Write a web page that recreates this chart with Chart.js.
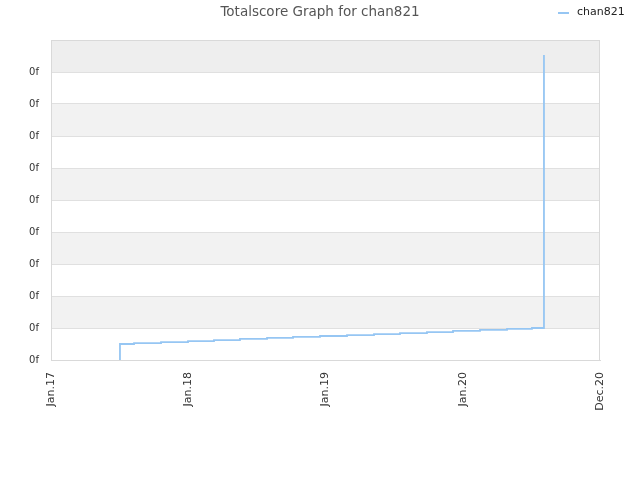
<!DOCTYPE html>
<html>
<head>
<meta charset="utf-8">
<script src="https://cdn.jsdelivr.net/npm/chart.js@4"></script>
<style>
  html, body { margin: 0; padding: 0; background: #fff; }
  #wrap { width: 640px; height: 480px; }
</style>
</head>
<body>
<div id="wrap"><canvas id="chartTotalscore" width="640" height="480"></canvas></div>
<script>
// Values (x = months since Jan 2017)
const chartTitle = 'Totalscore Graph for chan821';
const seriesLabel = 'chan821';
const stepMonths = [6.03, 7.26, 9.62, 11.98, 14.25, 16.52, 18.89, 21.16, 23.52, 25.88, 28.24, 30.51, 32.87, 35.15, 37.51, 39.87, 42.05, 43.1];
const scores = [0.5, 0.53, 0.56, 0.59, 0.62, 0.66, 0.69, 0.72, 0.75, 0.78, 0.81, 0.84, 0.87, 0.91, 0.94, 0.97, 1.0, 9.53];
const xTicks = [0, 12, 24, 36, 48];
const xTickLabels = ['Jan.17', 'Jan.18', 'Jan.19', 'Jan.20', 'Dec.20'];
const yTickLabel = '0f';

const lineColor = '#96c6f3';

// series starts at zero on the first step
const points = [{ x: stepMonths[0], y: 0 }].concat(
  stepMonths.map((m, i) => ({ x: m, y: scores[i] }))
);

// alternating horizontal bands behind the grid
const bandPlugin = {
  id: 'bands',
  beforeDraw(chart) {
    const { ctx, chartArea: a, scales: { y } } = chart;
    ctx.save();
    for (let v = 0; v < y.max; v++) {
      if (v % 2 === 0) continue;
      const top = y.getPixelForValue(v + 1);
      const bot = y.getPixelForValue(v);
      ctx.fillStyle = v === y.max - 1 ? '#eeeeee' : '#f2f2f2';
      ctx.fillRect(a.left, top, a.right - a.left, bot - top);
    }
    ctx.restore();
  }
};

// title and legend on one row
const headerPlugin = {
  id: 'header',
  afterDraw(chart) {
    const { ctx } = chart;
    ctx.save();
    ctx.font = '13.5px "DejaVu Sans"';
    ctx.fillStyle = '#555555';
    ctx.textAlign = 'center';
    ctx.textBaseline = 'middle';
    ctx.fillText(chartTitle, 320, 12);

    ctx.strokeStyle = lineColor;
    ctx.lineWidth = 2;
    ctx.beginPath();
    ctx.moveTo(558, 13);
    ctx.lineTo(569, 13);
    ctx.stroke();
    ctx.font = '11px "DejaVu Sans"';
    ctx.fillStyle = '#222222';
    ctx.textAlign = 'left';
    ctx.fillText(seriesLabel, 577, 12);
    ctx.restore();
  }
};

new Chart(document.getElementById('chartTotalscore'), {
  type: 'line',
  data: {
    datasets: [{
      label: seriesLabel,
      data: points,
      borderColor: lineColor,
      borderWidth: 1.8,
      stepped: 'before',
      pointRadius: 0,
      fill: false
    }]
  },
  options: {
    responsive: false,
    animation: false,
    layout: { padding: { top: 40, right: 40, left: 0, bottom: 0 } },
    plugins: {
      legend: { display: false },
      title: { display: false },
      tooltip: { enabled: false }
    },
    scales: {
      x: {
        type: 'linear',
        min: 0,
        max: 48,
        afterBuildTicks: s => { s.ticks = xTicks.map(v => ({ value: v })); },
        afterFit: s => { s.height = 120; },
        ticks: {
          minRotation: 90,
          maxRotation: 90,
          padding: 12,
          color: '#333333',
          font: { family: 'DejaVu Sans', size: 11 },
          callback: v => xTickLabels[xTicks.indexOf(v)]
        },
        grid: { display: false, drawTicks: false },
        border: { color: '#d9d9d9' }
      },
      y: {
        min: 0,
        max: 10,
        afterFit: s => { s.width = 51; },
        ticks: {
          stepSize: 1,
          padding: 12,
          color: '#333333',
          font: { family: 'DejaVu Sans', size: 10 },
          callback: v => v < 10 ? yTickLabel : ''
        },
        grid: { color: '#e0e0e0', drawTicks: false },
        border: { color: '#d9d9d9' }
      }
    }
  },
  plugins: [bandPlugin, headerPlugin, {
    id: 'frame',
    afterDraw(chart) {
      const { ctx, chartArea: a } = chart;
      ctx.save();
      ctx.strokeStyle = '#d9d9d9';
      ctx.lineWidth = 1;
      ctx.strokeRect(a.left + 0.5, a.top + 0.5, a.right - a.left - 1, a.bottom - a.top);
      ctx.restore();
    }
  }]
});
</script>
</body>
</html>
